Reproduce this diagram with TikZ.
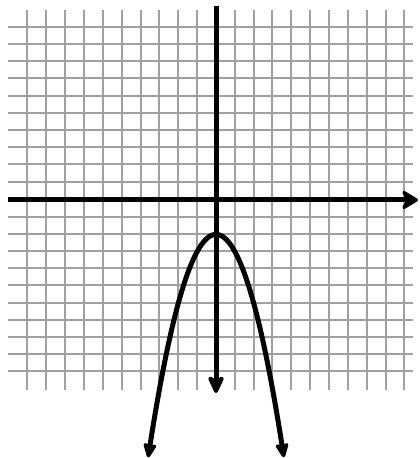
\documentclass[tikz,border=0pt]{standalone}
\usetikzlibrary{arrows.meta}
\definecolor{gridgray}{RGB}{160,160,160}
\begin{document}
\begin{tikzpicture}[x=1bp,y=-1bp,
  gridline/.style={draw=gridgray,line width=2bp},
  axisline/.style={draw=black,line width=5bp,-{Stealth[round,length=20bp,width=24bp,inset=7bp]}},
  curveline/.style={draw=black,line width=5bp,{Stealth[round,length=18bp,width=16bp,inset=4bp]}-{Stealth[round,length=18bp,width=16bp,inset=4bp]}}]
\useasboundingbox (0,0) rectangle (419,458);
% grid
\foreach \gx in {27,46,65,84,103,122,141,159,178,197,216,235,254,272,291,310,329,348,367,386,404}
  \draw[gridline] (\gx,10) -- (\gx,390);
\foreach \gy in {27,44,61,78,96,113,130,147,164,182,200,217,234,251,268,285,303,320,337,354,371}
  \draw[gridline] (8,\gy) -- (413,\gy);
% axes
\coordinate (xs) at (8,200);
\coordinate (xe) at (418,200);
\coordinate (ys) at (216,6);
\coordinate (ye) at (216,393);
\draw[axisline] (xs) -- (xe);
\draw[axisline,-{Stealth[round,length=22bp,width=20bp,inset=6bp]}] (ys) -- (ye);
% parabola y = -x^2 - 2
\draw[curveline] plot[domain=-3.6:3.6,samples=80,smooth] ({216+18.85*\x},{200+17.2*(\x*\x+2)});
\end{tikzpicture}
\end{document}
